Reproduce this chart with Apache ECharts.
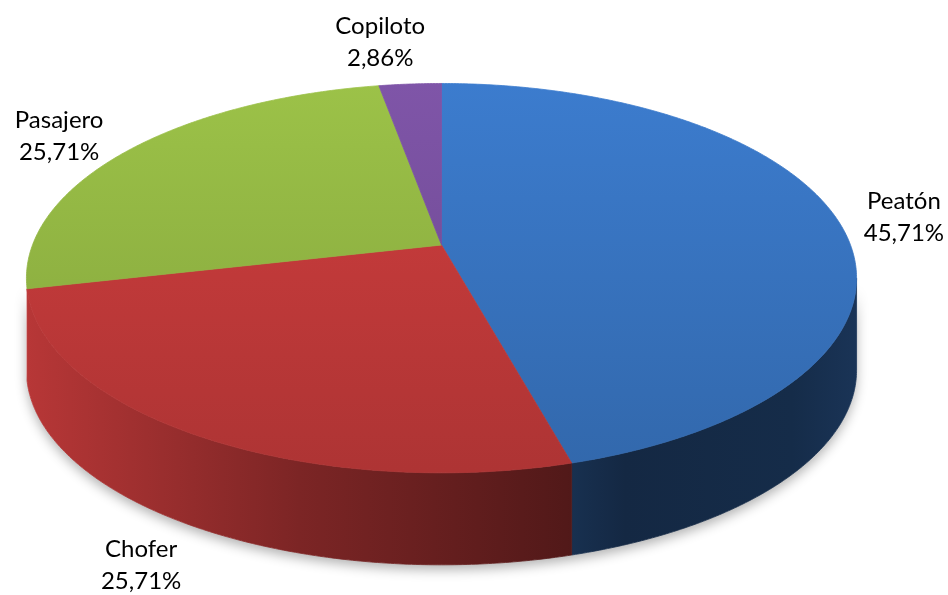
<!DOCTYPE html>
<html><head><meta charset="utf-8">
<script src="https://cdn.jsdelivr.net/npm/echarts@6/dist/echarts.min.js"></script>
<style>html,body{margin:0;padding:0;background:#fff}#c{width:948px;height:595px}</style>
</head><body><div id="c"></div>
<script>
// ---- data ----
const categories = ['Peatón', 'Chofer', 'Pasajero', 'Copiloto'];
const values = [45.71, 25.71, 25.71, 2.86];

// ---- style ----
const colors = ['#3a77c6', '#c83c3c', '#96bb45', '#7a52a2'];
const FONT = 'Lato';
const FONT_SIZE = 24;
const LINE_H = 32;

// projection of the tilted disc (perspective homography)
const CX = 441.5, CY = 245, A = 409, B = 147.3, K = -0.1703, DEPTH = 92;
function proj(deg, s, drop) {
  const t = deg * Math.PI / 180;
  const x = s * Math.sin(t), y = -s * Math.cos(t);
  const w = 1 + K * y;
  return [CX + A * x / w, (CY + B * y) / w + (drop || 0)];
}
function arc(a0, a1, drop) {
  const pts = [];
  const n = Math.max(2, Math.ceil((a1 - a0) / 0.5));
  for (let j = 0; j <= n; j++) pts.push(proj(a0 + (a1 - a0) * j / n, 1, drop));
  return pts;
}
function hexToRgb(h) {
  h = h.replace('#', '');
  return [parseInt(h.substr(0, 2), 16), parseInt(h.substr(2, 2), 16), parseInt(h.substr(4, 2), 16)];
}
function mul(col, f) {
  const c = hexToRgb(col).map(v => Math.max(0, Math.min(255, Math.round(v * f))));
  return 'rgb(' + c.join(',') + ')';
}
function topGrad(col) {
  return {
    type: 'linear', global: true, x: 0, y: 83, x2: 0, y2: 470,
    colorStops: [{ offset: 0, color: mul(col, 1.04) }, { offset: 1, color: mul(col, 0.87) }]
  };
}
function wallGrad(col) {
  return {
    type: 'linear', global: true, x: 24, y: 0, x2: 859, y2: 0,
    colorStops: [
      { offset: 0, color: mul(col, 0.92) },
      { offset: 0.33, color: mul(col, 0.62) },
      { offset: 0.65, color: mul(col, 0.41) },
      { offset: 0.72, color: mul(col, 0.34) },
      { offset: 0.92, color: mul(col, 0.37) },
      { offset: 1, color: mul(col, 0.44) }
    ]
  };
}

const total = values.reduce((a, b) => a + b, 0);
let acc = 0;
const seriesData = categories.map((name, i) => {
  const a0 = acc / total * 360;
  acc += values[i];
  const a1 = acc / total * 360;
  return { name: name, value: [values[i], a0, a1] };
});

const VIS0 = Math.acos(K) * 180 / Math.PI;   // right silhouette
const VIS1 = 360 - VIS0;                      // left silhouette

const mctx = document.createElement('canvas').getContext('2d');
mctx.font = FONT_SIZE + 'px ' + FONT;

function renderWall(params, api) {
  const i = params.dataIndex;
  const a0 = api.value(1), a1 = api.value(2);
  const children = [];
  if (i === 0) {
    const top = arc(VIS0, VIS1, 0), bot = arc(VIS0, VIS1, DEPTH).reverse();
    children.push({
      type: 'polygon', z2: -5, shape: { points: top.concat(bot) },
      style: { fill: '#ffffff', shadowBlur: 12, shadowColor: 'rgba(0,0,0,0.3)', shadowOffsetY: 5 }
    });
  }
  const s = Math.max(a0, VIS0), e = Math.min(a1, VIS1);
  if (e - s > 4) {
    const top = arc(s, e, 0), bot = arc(s, e, DEPTH).reverse();
    const g = wallGrad(colors[i]);
    children.push({
      type: 'polygon', z2: 1, shape: { points: top.concat(bot) },
      style: { fill: g, stroke: g, lineWidth: 0.8 }
    });
  }
  return { type: 'group', children: children };
}

function renderTop(params, api) {
  const i = params.dataIndex;
  const v = api.value(0), a0 = api.value(1), a1 = api.value(2);
  const pts = [proj(0, 0)].concat(arc(a0, a1, 0));
  const g = topGrad(colors[i]);
  // label
  const name = categories[i];
  const pct = (v / total * 100).toFixed(2).replace('.', ',') + '%';
  const hw = Math.max(mctx.measureText(name).width, mctx.measureText(pct).width) / 2;
  const mid = (a0 + a1) / 2, t = mid * Math.PI / 180;
  const sn = Math.sin(t), cs = Math.cos(t);
  let cx, cy;
  if (Math.abs(cs) > Math.abs(sn)) {
    if (cs < 0) {            // front: below the side wall
      const P = proj(mid, 1.05, DEPTH);
      cx = P[0] + Math.sign(sn) * hw;
      cy = P[1] + 27;
    } else {                 // back: above the rim
      const P = proj(mid, 1, 0);
      cx = P[0] + Math.sign(sn) * (hw - 15);
      cy = P[1] - 10 - LINE_H;
    }
  } else {                   // left / right
    const P = proj(mid, 1, 0);
    cx = P[0] + Math.sign(sn) * (26 + hw);
    cy = P[1] - 25 * cs;
  }
  return {
    type: 'group', children: [
      { type: 'polygon', z2: 10, shape: { points: pts }, style: { fill: g, stroke: g, lineWidth: 0.8 } },
      {
        type: 'text', z2: 30, x: cx, y: cy,
        style: {
          text: name + '\n' + pct, fill: '#000', fontFamily: FONT, fontSize: FONT_SIZE,
          lineHeight: LINE_H, align: 'center', verticalAlign: 'middle'
        }
      }
    ]
  };
}

const chart = echarts.init(document.getElementById('c'), null, { renderer: 'canvas' });
chart.setOption({
  backgroundColor: '#ffffff',
  animation: false,
  series: [
    { type: 'custom', coordinateSystem: 'none', z: 1, silent: true, renderItem: renderWall, data: seriesData },
    { type: 'custom', coordinateSystem: 'none', z: 2, silent: true, renderItem: renderTop, data: seriesData }
  ]
});
</script>
</body></html>
